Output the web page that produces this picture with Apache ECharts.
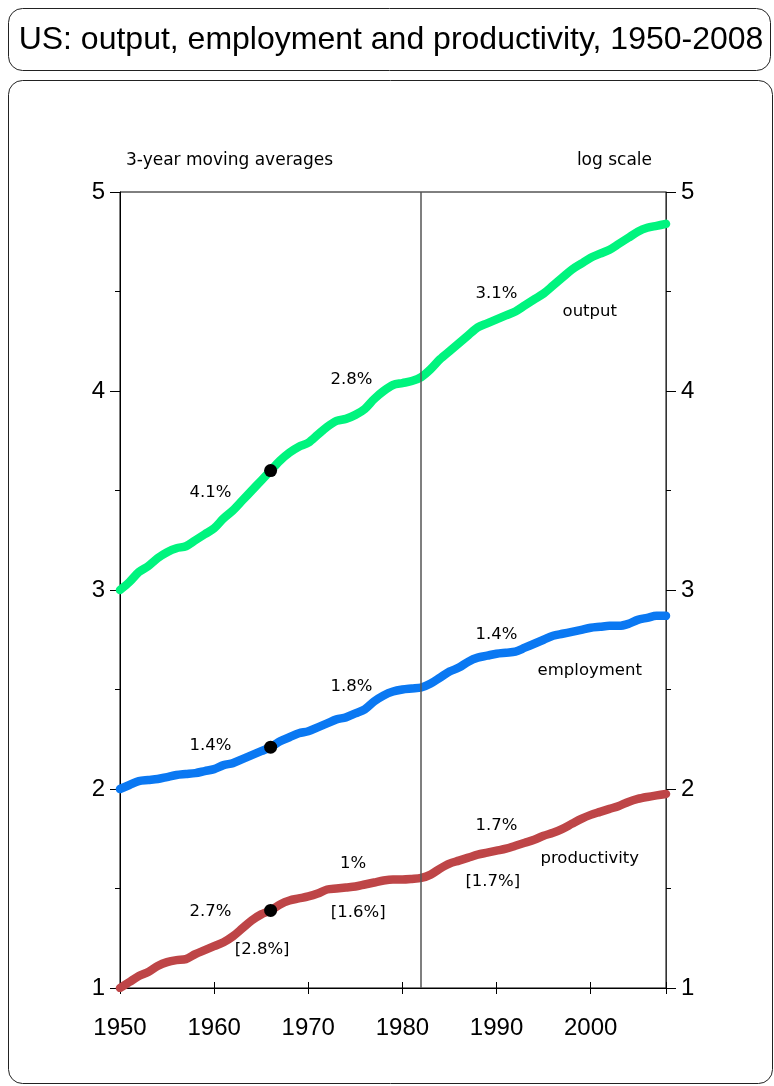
<!DOCTYPE html>
<html>
<head>
<meta charset="utf-8">
<script src="https://cdn.jsdelivr.net/npm/echarts@6/dist/echarts.min.js"></script>
<style>
  html, body { margin: 0; padding: 0; background: #fff; }
  #chart { width: 774px; height: 1086px; }
</style>
</head>
<body>
<div id="chart"></div>
<script>
// Years 1950-2008, one point per year (3-year moving averages, log scale)
const years = [];
for (let y = 1950; y <= 2008; y++) years.push(y);

const output = [
  3.00, 3.04, 3.09, 3.12, 3.16, 3.19, 3.21, 3.22, 3.25, 3.28,
  3.31, 3.36, 3.40, 3.45, 3.50, 3.55, 3.60, 3.65, 3.69, 3.72,
  3.74, 3.78, 3.82, 3.85, 3.86, 3.88, 3.91, 3.96, 4.00, 4.03,
  4.04, 4.05, 4.07, 4.11, 4.16, 4.20, 4.24, 4.28, 4.32, 4.34,
  4.36, 4.38, 4.40, 4.43, 4.46, 4.49, 4.53, 4.57, 4.61, 4.64,
  4.67, 4.69, 4.71, 4.74, 4.77, 4.80, 4.82, 4.83, 4.84
];

const employment = [
  2.00, 2.02, 2.04, 2.045, 2.05, 2.06, 2.07, 2.075, 2.08, 2.09,
  2.10, 2.12, 2.13, 2.15, 2.17, 2.19, 2.21, 2.24, 2.26, 2.28,
  2.29, 2.31, 2.33, 2.35, 2.36, 2.38, 2.40, 2.44, 2.47, 2.49,
  2.50, 2.505, 2.51, 2.53, 2.56, 2.59, 2.61, 2.64, 2.66, 2.67,
  2.68, 2.685, 2.69, 2.71, 2.73, 2.75, 2.77, 2.78, 2.79, 2.80,
  2.81, 2.815, 2.82, 2.82, 2.83, 2.85, 2.86, 2.87, 2.87
];

const productivity = [
  1.00, 1.03, 1.06, 1.08, 1.11, 1.13, 1.14, 1.145, 1.17, 1.19,
  1.21, 1.23, 1.26, 1.30, 1.34, 1.37, 1.39, 1.42, 1.44, 1.45,
  1.46, 1.475, 1.495, 1.50, 1.505, 1.51, 1.52, 1.53, 1.54, 1.545,
  1.545, 1.548, 1.553, 1.57, 1.60, 1.625, 1.64, 1.655, 1.67, 1.68,
  1.69, 1.70, 1.715, 1.73, 1.745, 1.765, 1.78, 1.80, 1.825, 1.85,
  1.87, 1.885, 1.90, 1.915, 1.935, 1.95, 1.96, 1.968, 1.975
];

// Period break markers
const markerYear = 1966;
const breakYear = 1982;

// Axis ticks
const xTicks = [1950, 1960, 1970, 1980, 1990, 2000];
const yTicks = [1, 2, 3, 4, 5];

// Growth-rate annotations: [text, year, value]
const outputNotes = [
  ['4.1%', 1959.6, 3.49], ['2.8%', 1974.6, 4.055], ['3.1%', 1990.0, 4.49], ['output', 1999.9, 4.40]
];
const employmentNotes = [
  ['1.4%', 1959.6, 2.216], ['1.8%', 1974.6, 2.513], ['1.4%', 1990.0, 2.774], ['employment', 1999.9, 2.593]
];
const productivityNotes = [
  ['2.7%', 1959.6, 1.382], ['[2.8%]', 1965.1, 1.191], ['1%', 1974.75, 1.623], ['[1.6%]', 1975.3, 1.377],
  ['1.7%', 1990.0, 1.814], ['[1.7%]', 1989.6, 1.533], ['productivity', 1999.9, 1.648]
];

const GREEN = '#00F47E';
const BLUE = '#0A78F2';
const RED = '#BE4547';
const TICK_FONT = 'Liberation Sans';
const NOTE_FONT = 'DejaVu Sans';

const pairs = arr => years.map((y, i) => [y, arr[i]]);
const mi = years.indexOf(markerYear);

function lineSeries(name, arr, color) {
  return {
    name, type: 'line', data: pairs(arr), smooth: 0.3, showSymbol: false,
    lineStyle: { color, width: 8.5, cap: 'round', join: 'round' }, z: 3
  };
}

function noteSeries(notes) {
  return {
    type: 'scatter', symbolSize: 1, silent: true, z: 6,
    itemStyle: { color: 'rgba(0,0,0,0)' },
    data: notes.map(n => ({ name: n[0], value: [n[1], n[2]] })),
    label: {
      show: true, position: 'inside', formatter: p => p.name,
      fontFamily: NOTE_FONT, fontSize: 16.5, color: '#000',
      textBorderWidth: 0, opacity: 1
    }
  };
}

const chart = echarts.init(document.getElementById('chart'), null, { renderer: 'canvas' });

const yAxisBase = {
  type: 'value', min: 1, max: 5, interval: 1,
  axisLine: { show: true, lineStyle: { color: '#000', width: 1 } },
  axisTick: { show: true, length: 10, lineStyle: { color: '#000' } },
  minorTick: { show: true, splitNumber: 2, length: 5, lineStyle: { color: '#000' } },
  splitLine: { show: false },
  axisLabel: { fontFamily: TICK_FONT, fontSize: 24, color: '#000', margin: 15,
    formatter: v => yTicks.includes(v) ? String(v) : '' }
};

chart.setOption({
  animation: false,
  backgroundColor: '#fff',
  grid: { left: 120, right: 108, top: 192, bottom: 98, show: true, borderColor: '#000', borderWidth: 1 },
  graphic: [
    { type: 'rect', shape: { x: 8.5, y: 8.5, width: 762, height: 62, r: 14 },
      style: { fill: '#fff', stroke: '#222', lineWidth: 1 }, z: -10 },
    { type: 'text', x: 391, y: 40,
      style: { text: 'US: output, employment and productivity, 1950-2008', fill: '#000',
        font: '32px "Liberation Sans"', textAlign: 'center', textVerticalAlign: 'middle' } },
    { type: 'rect', shape: { x: 8.5, y: 80.5, width: 764, height: 1003, r: 14 },
      style: { fill: 'none', stroke: '#222', lineWidth: 1 }, z: -10 },
    { type: 'text', x: 126, y: 161,
      style: { text: '3-year moving averages', fill: '#000', font: '17px "DejaVu Sans"',
        textAlign: 'left', textVerticalAlign: 'middle' } },
    { type: 'text', x: 652, y: 161,
      style: { text: 'log scale', fill: '#000', font: '17px "DejaVu Sans"',
        textAlign: 'right', textVerticalAlign: 'middle' } }
  ],
  xAxis: [
    {
      type: 'value', min: 1950, max: 2008, interval: 10, position: 'bottom',
      axisLine: { show: true, lineStyle: { color: '#000' } },
      axisTick: { show: true, length: 6, lineStyle: { color: '#000' } },
      splitLine: { show: false },
      axisLabel: { fontFamily: TICK_FONT, fontSize: 24, color: '#000', margin: 28,
        formatter: v => xTicks.includes(v) ? String(v) : '' }
    },
    {
      type: 'value', min: 1950, max: 2008, interval: 10, position: 'bottom',
      axisLine: { show: false },
      axisTick: { show: true, inside: true, length: 6, lineStyle: { color: '#000' } },
      splitLine: { show: false }, axisLabel: { show: false }
    }
  ],
  yAxis: [
    Object.assign({}, yAxisBase, { position: 'left' }),
    Object.assign({}, yAxisBase, { position: 'right',
      axisLine: { show: true, lineStyle: { color: '#333', width: 1 } } })
  ],
  series: [
    Object.assign(lineSeries('output', output, GREEN), {
      markLine: {
        silent: true, symbol: 'none', label: { show: false },
        lineStyle: { color: '#555', width: 1.5, type: 'solid' },
        data: [{ xAxis: breakYear }]
      }
    }),
    lineSeries('employment', employment, BLUE),
    lineSeries('productivity', productivity, RED),
    {
      type: 'scatter', symbol: 'circle', symbolSize: 13, z: 5,
      itemStyle: { color: '#000', opacity: 1 },
      data: [[markerYear, output[mi]], [markerYear, employment[mi]], [markerYear, productivity[mi]]]
    },
    noteSeries(outputNotes),
    noteSeries(employmentNotes),
    noteSeries(productivityNotes)
  ]
});
</script>
</body>
</html>
